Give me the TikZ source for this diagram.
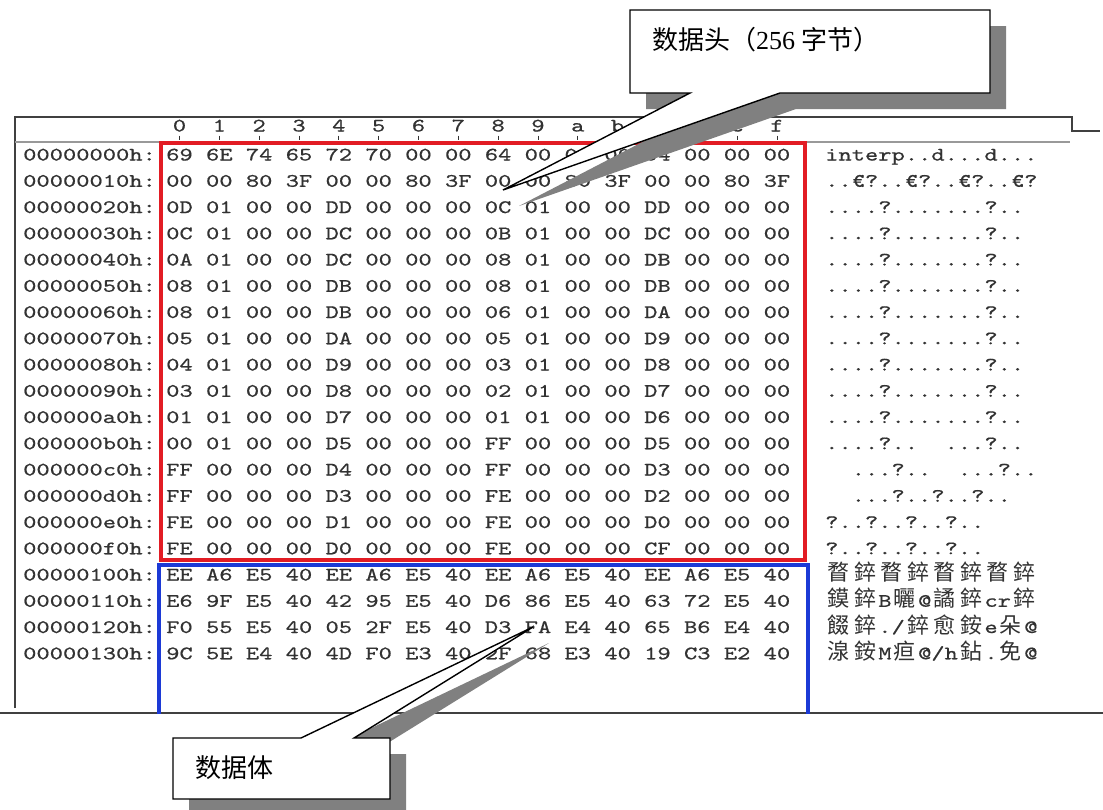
\documentclass[tikz,border=0pt]{standalone}
\usepackage{fontspec}
\usepackage{tikz}
\usepackage{xcolor}
\newfontfamily\cjk{Noto Sans CJK SC}
\newfontfamily\numfont{Liberation Serif}
\newfontfamily\hexfont{lmmono10-regular.otf}[FakeStretch=1.33,FakeBold=0.6]
\definecolor{hexgray}{RGB}{50,50,50}
\definecolor{markred}{RGB}{226,28,36}
\definecolor{markblue}{RGB}{28,58,214}
\definecolor{shadowgray}{RGB}{128,128,128}
\newlength{\cellw}
\setlength{\cellw}{13.27pt}
% one character per fixed cell, a CJK character takes two cells, _ is a blank cell
\def\ascrow#1{\ascstep#1\relax}
\def\ascstep#1{\ifx#1\relax\else
  \ifx#1_\hbox to\cellw{}\else
  \ifnum`#1>11903 \hbox to2\cellw{\hss\cjk\fontsize{22}{22}\selectfont#1\hss}%
  \else\hbox to\cellw{\hss#1\hss}\fi\fi
  \expandafter\ascstep\fi}

\begin{document}
\begin{tikzpicture}[x=1pt, y=-1pt,
    hexcell/.style={font=\hexfont\fontsize{19}{19}\selectfont, text=hexgray,
      inner sep=0pt, text height=13pt, text depth=4pt},
    frameline/.style={line width=1.4pt, black!75},
    shade/.style={fill=shadowgray},
    balloon/.style={fill=white, draw=black, line width=1.4pt},
    balloontext/.style={font=\cjk\fontsize{26}{26}\selectfont, inner sep=0pt, anchor=west}]

    \useasboundingbox[fill=white] (0,0) rectangle (1103,809);

    % Window frame
    \draw[frameline] (15,708) -- (15,117) -- (1072,117) -- (1072,131) -- (1100,131);
    \draw[line width=2.4pt, black!40] (15,142) -- (1070,142);
    \draw[frameline] (0,713) -- (1103,713);

    % Column ruler
    \foreach \h [count=\c from 0] in {0,1,2,3,4,5,6,7,8,9,a,b,c,d,e,f} {
        \node[hexcell] (col\c) at (179.5+39.83*\c,127) {\h};
        \draw[hexgray, line width=0.8pt] (col\c.south) -- ++(0,4);
    }

    % Offsets, bytes and text
    \foreach \addr/\bytes/\txt [count=\r from 0] in {
        00000000h/{69,6E,74,65,72,70,00,00,64,00,00,00,64,00,00,00}/{interp..d...d...},
        00000010h/{00,00,80,3F,00,00,80,3F,00,00,80,3F,00,00,80,3F}/{..€?..€?..€?..€?},
        00000020h/{0D,01,00,00,DD,00,00,00,0C,01,00,00,DD,00,00,00}/{....?.......?..},
        00000030h/{0C,01,00,00,DC,00,00,00,0B,01,00,00,DC,00,00,00}/{....?.......?..},
        00000040h/{0A,01,00,00,DC,00,00,00,08,01,00,00,DB,00,00,00}/{....?.......?..},
        00000050h/{08,01,00,00,DB,00,00,00,08,01,00,00,DB,00,00,00}/{....?.......?..},
        00000060h/{08,01,00,00,DB,00,00,00,06,01,00,00,DA,00,00,00}/{....?.......?..},
        00000070h/{05,01,00,00,DA,00,00,00,05,01,00,00,D9,00,00,00}/{....?.......?..},
        00000080h/{04,01,00,00,D9,00,00,00,03,01,00,00,D8,00,00,00}/{....?.......?..},
        00000090h/{03,01,00,00,D8,00,00,00,02,01,00,00,D7,00,00,00}/{....?.......?..},
        000000a0h/{01,01,00,00,D7,00,00,00,01,01,00,00,D6,00,00,00}/{....?.......?..},
        000000b0h/{00,01,00,00,D5,00,00,00,FF,00,00,00,D5,00,00,00}/{....?..__...?..},
        000000c0h/{FF,00,00,00,D4,00,00,00,FF,00,00,00,D3,00,00,00}/{__...?..__...?..},
        000000d0h/{FF,00,00,00,D3,00,00,00,FE,00,00,00,D2,00,00,00}/{__...?..?..?..},
        000000e0h/{FE,00,00,00,D1,00,00,00,FE,00,00,00,D0,00,00,00}/{?..?..?..?..},
        000000f0h/{FE,00,00,00,D0,00,00,00,FE,00,00,00,CF,00,00,00}/{?..?..?..?..},
        00000100h/{EE,A6,E5,40,EE,A6,E5,40,EE,A6,E5,40,EE,A6,E5,40}/{瞀錊瞀錊瞀錊瞀錊},
        00000110h/{E6,9F,E5,40,42,95,E5,40,D6,86,E5,40,63,72,E5,40}/{鏌錊B曬@譎錊cr錊},
        00000120h/{F0,55,E5,40,05,2F,E5,40,D3,FA,E4,40,65,B6,E4,40}/{餟錊./錊愈銨e朵@},
        00000130h/{9C,5E,E4,40,4D,F0,E3,40,2F,68,E3,40,19,C3,E2,40}/{湶銨M疸@/h鉆.免@}} {
        \node[hexcell, anchor=west] (addr\r) at (23,156+26.25*\r) {\addr:};
        \foreach \b [count=\c from 0] in \bytes
            \node[hexcell] (byte\r-\c) at (179.5+39.83*\c,156+26.25*\r) {\b};
        \node[hexcell, anchor=west] (text\r) at (825,156+26.25*\r)
            {\expandafter\ascrow\expandafter{\txt}};
    }

    % Header block (red) and body block (blue)
    \draw[markred, line width=3.5pt] (161,143) rectangle (805,560);
    \draw[markblue, line width=4pt] (159,714) -- (159,565) -- (808,565) -- (808,714);

    % Callout: header
    \foreach \d/\sty in {16/shade, 0/balloon}
        \path[\sty, xshift=\d, yshift=-\d] (630,10) -- (990,10) -- (990,93) -- (780,93)
            -- (503,190) -- (690,93) -- (630,93) -- cycle;
    \node[balloontext] (headlabel) at (652,40) {数据头（{\numfont 256} 字节）};

    % Callout: body
    \foreach \d/\sty in {16/shade, 0/balloon}
        \path[\sty, xshift=\d, yshift=-\d] (173,738) -- (301,738) -- (533,627) -- (354,738)
            -- (390,738) -- (390,799) -- (173,799) -- cycle;
    \node[balloontext] (bodylabel) at (195,768) {数据体};
\end{tikzpicture}
\end{document}
